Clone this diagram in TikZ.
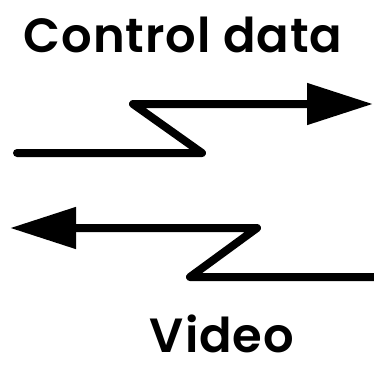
\documentclass[tikz,border=0pt]{standalone}
\usepackage{fontspec}
\setmainfont{Poppins}[BoldFont={Poppins SemiBold}, LetterSpace=2]
\usetikzlibrary{arrows.meta}

\tikzset{
	wire/.style={draw=black, line width=8pt, line cap=round, line join=round},
	flow/.style={wire, -{Triangle[length=66pt, width=40pt]}},
	caption/.style={font=\fontsize{48}{48}\selectfont\bfseries, inner sep=0pt, text depth=0pt, anchor=base}
}

\begin{document}
\begin{tikzpicture}[x=1pt, y=-1pt]
			\useasboundingbox (0,0) rectangle (374,365);
			
			\node[caption] (ctrl) at (183,52){Control data};
			\node[caption] (video) at (222,352){Video};
			
			% control data, left to right
			\coordinate (c1) at (17,153);
			\coordinate (c2) at (202,153);
			\coordinate (c3) at (133,104);
			\coordinate (c4) at (373,104);
			
			% video, right to left
			\coordinate (v1) at (374,277);
			\coordinate (v2) at (190,277);
			\coordinate (v3) at (257,228);
			\coordinate (v4) at (10,228);
			
			\path[flow] (c1) -- (c2) -- (c3) -- (c4);
			\path[flow] (v1) -- (v2) -- (v3) -- (v4);
\end{tikzpicture}
\end{document}
